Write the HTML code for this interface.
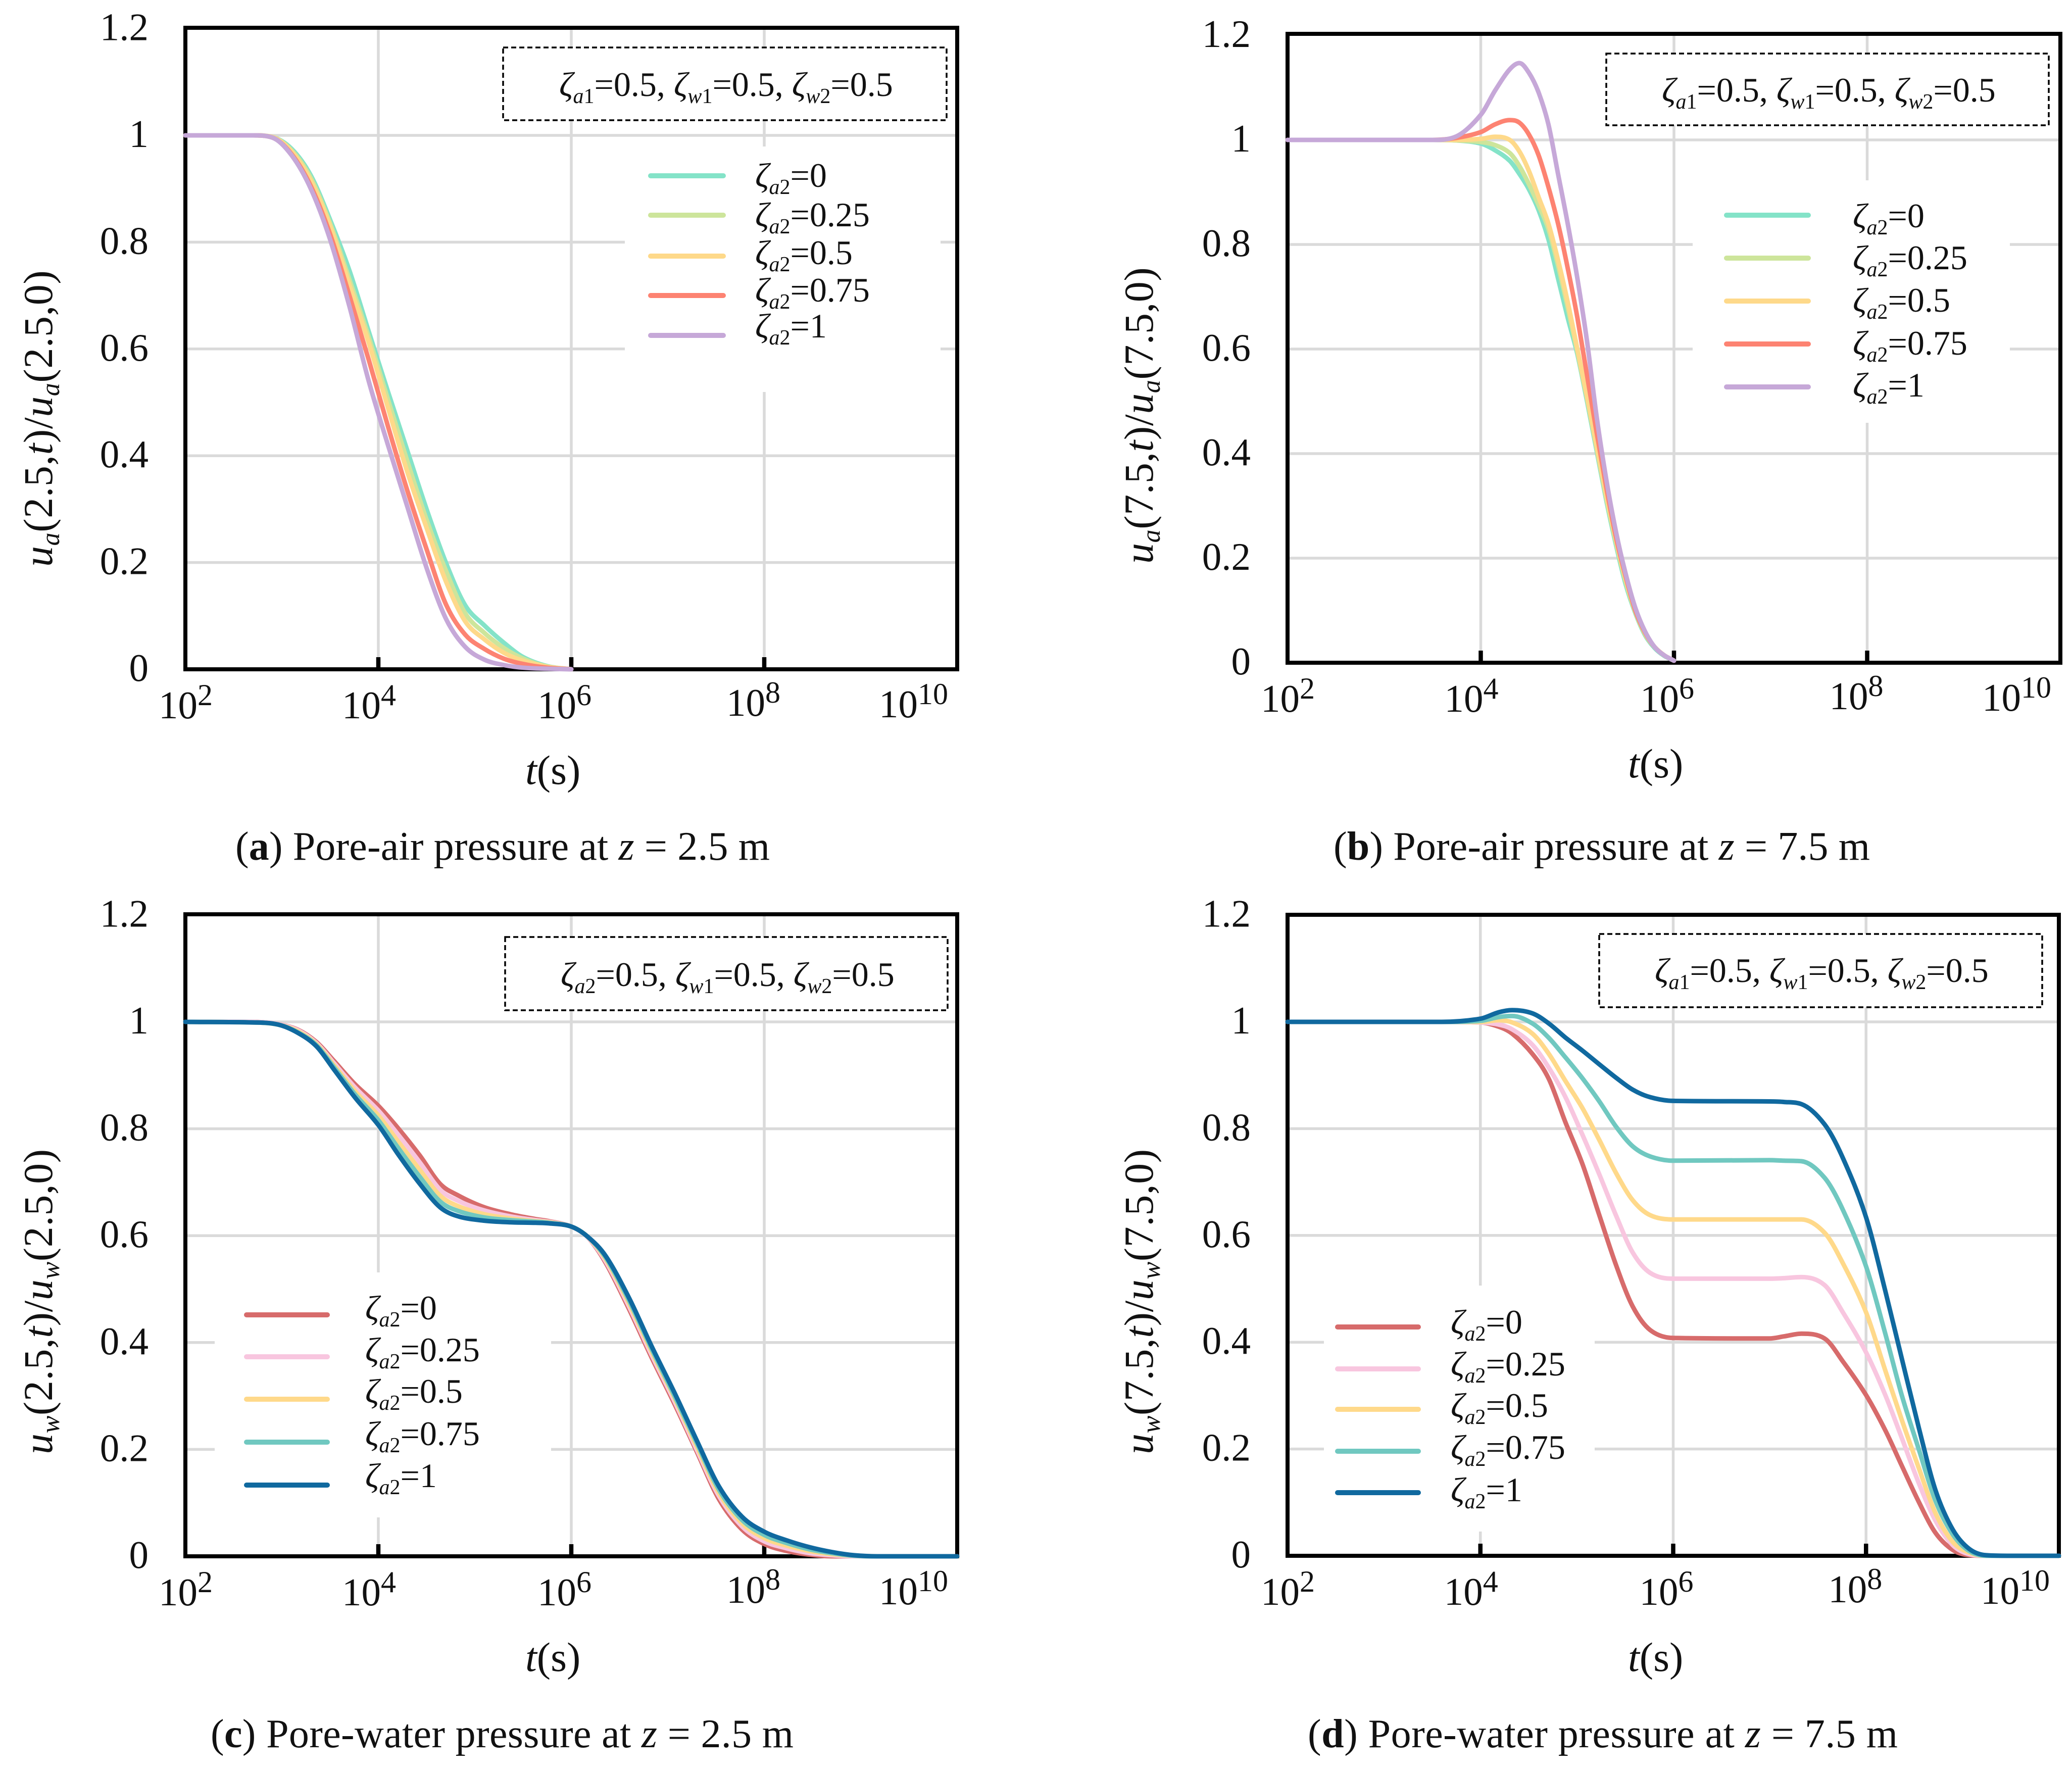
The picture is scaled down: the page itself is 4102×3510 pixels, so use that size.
<!DOCTYPE html>
<html lang="en">
<head>
<meta charset="utf-8">
<title>Pore pressure dissipation charts</title>
<style>
html,body{margin:0;padding:0;background:#fff;}
svg{display:block;font-family:"Liberation Serif",serif;fill:#111;}
.tick{font-size:77px;}
.ax{font-size:82px;}
.ytitle{font-size:82px;letter-spacing:0.6px;}
.leg{font-size:68px;}
.cap{font-size:80px;}
.i{font-style:italic;}
.b{font-weight:bold;}
.mask{fill:#fff;stroke:none;}
.dash{fill:#fff;stroke:#000;stroke-width:3.5;stroke-dasharray:10 6;}
.ll{stroke-width:10;stroke-linecap:round;fill:none;}
</style>
</head>
<body>
<svg id="figure" xmlns="http://www.w3.org/2000/svg" width="4102" height="3510" viewBox="0 0 4102 3510">
<rect width="4102" height="3510" fill="#fff"/>

<!-- Panel A -->
<g id="panel-a">
  <g id="grid-a"></g>
  <rect class="mask" x="1237" y="290" width="625" height="486"/>
  <rect class="dash" x="996" y="94" width="878" height="144"/>
  <text class="leg" x="1107" y="190"><tspan class="i">ζ</tspan><tspan class="i" font-size="42" dy="14">a</tspan><tspan font-size="42">1</tspan><tspan dy="-14">=0.5, </tspan><tspan class="i">ζ</tspan><tspan class="i" font-size="42" dy="14">w</tspan><tspan font-size="42">1</tspan><tspan dy="-14">=0.5, </tspan><tspan class="i">ζ</tspan><tspan class="i" font-size="42" dy="14">w</tspan><tspan font-size="42">2</tspan><tspan dy="-14">=0.5</tspan></text>
  <g id="axes-a"></g>
  <g id="lines-a"></g>
  <g>
    <line class="ll" x1="1288" x2="1432" y1="348" y2="348" stroke="#84e3c8"/>
    <line class="ll" x1="1288" x2="1432" y1="426" y2="426" stroke="#cde59b"/>
    <line class="ll" x1="1288" x2="1432" y1="507" y2="507" stroke="#fed98a"/>
    <line class="ll" x1="1288" x2="1432" y1="585" y2="585" stroke="#fd8372"/>
    <line class="ll" x1="1288" x2="1432" y1="664" y2="664" stroke="#c6a8d8"/>
    <text class="leg" x="1495" y="370"><tspan class="i">ζ</tspan><tspan class="i" font-size="42" dy="14">a</tspan><tspan font-size="42">2</tspan><tspan dy="-14">=0</tspan></text>
    <text class="leg" x="1495" y="448"><tspan class="i">ζ</tspan><tspan class="i" font-size="42" dy="14">a</tspan><tspan font-size="42">2</tspan><tspan dy="-14">=0.25</tspan></text>
    <text class="leg" x="1495" y="523"><tspan class="i">ζ</tspan><tspan class="i" font-size="42" dy="14">a</tspan><tspan font-size="42">2</tspan><tspan dy="-14">=0.5</tspan></text>
    <text class="leg" x="1495" y="597"><tspan class="i">ζ</tspan><tspan class="i" font-size="42" dy="14">a</tspan><tspan font-size="42">2</tspan><tspan dy="-14">=0.75</tspan></text>
    <text class="leg" x="1495" y="668"><tspan class="i">ζ</tspan><tspan class="i" font-size="42" dy="14">a</tspan><tspan font-size="42">2</tspan><tspan dy="-14">=1</tspan></text>
  </g>
  <text class="ytitle" transform="translate(103,1122) rotate(-90)"><tspan class="i">u</tspan><tspan class="i" font-size="52" dy="14">a</tspan><tspan dy="-14">(2.5,</tspan><tspan class="i">t</tspan><tspan>)/</tspan><tspan class="i">u</tspan><tspan class="i" font-size="52" dy="14">a</tspan><tspan dy="-14">(2.5,0)</tspan></text>
  <text class="ax" x="1040" y="1552"><tspan class="i">t</tspan>(s)</text>
  <text class="cap" x="466" y="1702" textLength="1058">(<tspan class="b">a</tspan>) Pore-air pressure at <tspan class="i">z</tspan> = 2.5 m</text>
</g>

<!-- Panel B -->
<g id="panel-b">
  <g id="grid-b"></g>
  <rect class="mask" x="3351" y="357" width="628" height="480"/>
  <rect class="dash" x="3180" y="106" width="876" height="142"/>
  <text class="leg" x="3290" y="201"><tspan class="i">ζ</tspan><tspan class="i" font-size="42" dy="14">a</tspan><tspan font-size="42">1</tspan><tspan dy="-14">=0.5, </tspan><tspan class="i">ζ</tspan><tspan class="i" font-size="42" dy="14">w</tspan><tspan font-size="42">1</tspan><tspan dy="-14">=0.5, </tspan><tspan class="i">ζ</tspan><tspan class="i" font-size="42" dy="14">w</tspan><tspan font-size="42">2</tspan><tspan dy="-14">=0.5</tspan></text>
  <g id="axes-b"></g>
  <g id="lines-b"></g>
  <g>
    <line class="ll" x1="3418" x2="3580" y1="426" y2="426" stroke="#84e3c8"/>
    <line class="ll" x1="3418" x2="3580" y1="511" y2="511" stroke="#cde59b"/>
    <line class="ll" x1="3418" x2="3580" y1="596" y2="596" stroke="#fed98a"/>
    <line class="ll" x1="3418" x2="3580" y1="681" y2="681" stroke="#fd8372"/>
    <line class="ll" x1="3418" x2="3580" y1="766" y2="766" stroke="#c6a8d8"/>
    <text class="leg" x="3668" y="450"><tspan class="i">ζ</tspan><tspan class="i" font-size="42" dy="14">a</tspan><tspan font-size="42">2</tspan><tspan dy="-14">=0</tspan></text>
    <text class="leg" x="3668" y="533"><tspan class="i">ζ</tspan><tspan class="i" font-size="42" dy="14">a</tspan><tspan font-size="42">2</tspan><tspan dy="-14">=0.25</tspan></text>
    <text class="leg" x="3668" y="617"><tspan class="i">ζ</tspan><tspan class="i" font-size="42" dy="14">a</tspan><tspan font-size="42">2</tspan><tspan dy="-14">=0.5</tspan></text>
    <text class="leg" x="3668" y="702"><tspan class="i">ζ</tspan><tspan class="i" font-size="42" dy="14">a</tspan><tspan font-size="42">2</tspan><tspan dy="-14">=0.75</tspan></text>
    <text class="leg" x="3668" y="785"><tspan class="i">ζ</tspan><tspan class="i" font-size="42" dy="14">a</tspan><tspan font-size="42">2</tspan><tspan dy="-14">=1</tspan></text>
  </g>
  <text class="ytitle" transform="translate(2282,1116) rotate(-90)"><tspan class="i">u</tspan><tspan class="i" font-size="52" dy="14">a</tspan><tspan dy="-14">(7.5,</tspan><tspan class="i">t</tspan><tspan>)/</tspan><tspan class="i">u</tspan><tspan class="i" font-size="52" dy="14">a</tspan><tspan dy="-14">(7.5,0)</tspan></text>
  <text class="ax" x="3223" y="1539"><tspan class="i">t</tspan>(s)</text>
  <text class="cap" x="2640" y="1702" textLength="1062">(<tspan class="b">b</tspan>) Pore-air pressure at <tspan class="i">z</tspan> = 7.5 m</text>
</g>

<!-- Panel C -->
<g id="panel-c">
  <g id="grid-c"></g>
  <rect class="mask" x="425" y="2519" width="666" height="485"/>
  <rect class="dash" x="1000" y="1855" width="876" height="145"/>
  <text class="leg" x="1110" y="1952"><tspan class="i">ζ</tspan><tspan class="i" font-size="42" dy="14">a</tspan><tspan font-size="42">2</tspan><tspan dy="-14">=0.5, </tspan><tspan class="i">ζ</tspan><tspan class="i" font-size="42" dy="14">w</tspan><tspan font-size="42">1</tspan><tspan dy="-14">=0.5, </tspan><tspan class="i">ζ</tspan><tspan class="i" font-size="42" dy="14">w</tspan><tspan font-size="42">2</tspan><tspan dy="-14">=0.5</tspan></text>
  <g id="axes-c"></g>
  <g id="lines-c"></g>
  <g>
    <line class="ll" x1="488" x2="648" y1="2603" y2="2603" stroke="#d76b6b"/>
    <line class="ll" x1="488" x2="648" y1="2686" y2="2686" stroke="#f8c6df"/>
    <line class="ll" x1="488" x2="648" y1="2770" y2="2770" stroke="#ffd98a"/>
    <line class="ll" x1="488" x2="648" y1="2855" y2="2855" stroke="#70c8c0"/>
    <line class="ll" x1="488" x2="648" y1="2940" y2="2940" stroke="#10699f"/>
    <text class="leg" x="723" y="2612"><tspan class="i">ζ</tspan><tspan class="i" font-size="42" dy="14">a</tspan><tspan font-size="42">2</tspan><tspan dy="-14">=0</tspan></text>
    <text class="leg" x="723" y="2695"><tspan class="i">ζ</tspan><tspan class="i" font-size="42" dy="14">a</tspan><tspan font-size="42">2</tspan><tspan dy="-14">=0.25</tspan></text>
    <text class="leg" x="723" y="2777"><tspan class="i">ζ</tspan><tspan class="i" font-size="42" dy="14">a</tspan><tspan font-size="42">2</tspan><tspan dy="-14">=0.5</tspan></text>
    <text class="leg" x="723" y="2861"><tspan class="i">ζ</tspan><tspan class="i" font-size="42" dy="14">a</tspan><tspan font-size="42">2</tspan><tspan dy="-14">=0.75</tspan></text>
    <text class="leg" x="723" y="2944"><tspan class="i">ζ</tspan><tspan class="i" font-size="42" dy="14">a</tspan><tspan font-size="42">2</tspan><tspan dy="-14">=1</tspan></text>
  </g>
  <text class="ytitle" transform="translate(103,2879) rotate(-90)"><tspan class="i">u</tspan><tspan class="i" font-size="52" dy="14">w</tspan><tspan dy="-14">(2.5,</tspan><tspan class="i">t</tspan><tspan>)/</tspan><tspan class="i">u</tspan><tspan class="i" font-size="52" dy="14">w</tspan><tspan dy="-14">(2.5,0)</tspan></text>
  <text class="ax" x="1040" y="3308"><tspan class="i">t</tspan>(s)</text>
  <text class="cap" x="417" y="3459" textLength="1154">(<tspan class="b">c</tspan>) Pore-water pressure at <tspan class="i">z</tspan> = 2.5 m</text>
</g>

<!-- Panel D -->
<g id="panel-d">
  <g id="grid-d"></g>
  <rect class="mask" x="2621" y="2545" width="536" height="487"/>
  <rect class="dash" x="3166" y="1849" width="877" height="145"/>
  <text class="leg" x="3276" y="1944"><tspan class="i">ζ</tspan><tspan class="i" font-size="42" dy="14">a</tspan><tspan font-size="42">1</tspan><tspan dy="-14">=0.5, </tspan><tspan class="i">ζ</tspan><tspan class="i" font-size="42" dy="14">w</tspan><tspan font-size="42">1</tspan><tspan dy="-14">=0.5, </tspan><tspan class="i">ζ</tspan><tspan class="i" font-size="42" dy="14">w</tspan><tspan font-size="42">2</tspan><tspan dy="-14">=0.5</tspan></text>
  <g id="axes-d"></g>
  <g id="lines-d"></g>
  <g>
    <line class="ll" x1="2648" x2="2808" y1="2627" y2="2627" stroke="#d76b6b"/>
    <line class="ll" x1="2648" x2="2808" y1="2710" y2="2710" stroke="#f8c6df"/>
    <line class="ll" x1="2648" x2="2808" y1="2790" y2="2790" stroke="#ffd98a"/>
    <line class="ll" x1="2648" x2="2808" y1="2873" y2="2873" stroke="#70c8c0"/>
    <line class="ll" x1="2648" x2="2808" y1="2955" y2="2955" stroke="#10699f"/>
    <text class="leg" x="2872" y="2640"><tspan class="i">ζ</tspan><tspan class="i" font-size="42" dy="14">a</tspan><tspan font-size="42">2</tspan><tspan dy="-14">=0</tspan></text>
    <text class="leg" x="2872" y="2723"><tspan class="i">ζ</tspan><tspan class="i" font-size="42" dy="14">a</tspan><tspan font-size="42">2</tspan><tspan dy="-14">=0.25</tspan></text>
    <text class="leg" x="2872" y="2805"><tspan class="i">ζ</tspan><tspan class="i" font-size="42" dy="14">a</tspan><tspan font-size="42">2</tspan><tspan dy="-14">=0.5</tspan></text>
    <text class="leg" x="2872" y="2888"><tspan class="i">ζ</tspan><tspan class="i" font-size="42" dy="14">a</tspan><tspan font-size="42">2</tspan><tspan dy="-14">=0.75</tspan></text>
    <text class="leg" x="2872" y="2972"><tspan class="i">ζ</tspan><tspan class="i" font-size="42" dy="14">a</tspan><tspan font-size="42">2</tspan><tspan dy="-14">=1</tspan></text>
  </g>
  <text class="ytitle" transform="translate(2282,2879) rotate(-90)"><tspan class="i">u</tspan><tspan class="i" font-size="52" dy="14">w</tspan><tspan dy="-14">(7.5,</tspan><tspan class="i">t</tspan><tspan>)/</tspan><tspan class="i">u</tspan><tspan class="i" font-size="52" dy="14">w</tspan><tspan dy="-14">(7.5,0)</tspan></text>
  <text class="ax" x="3223" y="3308"><tspan class="i">t</tspan>(s)</text>
  <text class="cap" x="2589" y="3459" textLength="1168">(<tspan class="b">d</tspan>) Pore-water pressure at <tspan class="i">z</tspan> = 7.5 m</text>
</g>
</svg>

<script>
// Tick values and labels
const yTickValues = [0, 0.2, 0.4, 0.6, 0.8, 1, 1.2];
const yTickLabels = ['0', '0.2', '0.4', '0.6', '0.8', '1', '1.2'];
const xTickExponents = [2, 4, 6, 8, 10];
const gridExponents = [4, 6, 8];

// Series names
const zetaNames = ['0', '0.25', '0.5', '0.75', '1'];

// Panel (a): log10(t) samples and values
const aLogT = [2, 2.7, 2.9, 3.1, 3.3, 3.5, 3.7, 3.9, 4.1, 4.3, 4.5, 4.7, 4.9, 5.1, 5.3, 5.5, 5.75, 6];
const aZeta0 = [1, 1, .997, .975, .925, .842, .747, .633, .52, .41, .30, .20, .12, .082, .05, .023, .006, 0];
const aZeta25 = [1, 1, .997, .972, .92, .835, .73, .622, .505, .39, .28, .185, .105, .068, .04, .02, .005, 0];
const aZeta50 = [1, 1, .997, .97, .915, .83, .72, .612, .49, .37, .265, .165, .09, .056, .031, .016, .005, 0];
const aZeta75 = [1, 1, .996, .965, .905, .815, .70, .58, .455, .335, .225, .122, .065, .038, .02, .01, .003, 0];
const aZeta100 = [1, 1, .996, .963, .90, .805, .68, .54, .42, .305, .19, .095, .042, .018, .008, .003, .001, 0];

// Panel (b)
const bLogT = [2, 3.5, 3.75, 4, 4.15, 4.3, 4.4, 4.5, 4.6, 4.7, 4.8, 4.9, 5, 5.1, 5.2, 5.3, 5.4, 5.5, 5.6, 5.7, 5.8, 5.9, 6];
const bZeta0 = [1, 1, .999, .993, .98, .96, .935, .905, .865, .81, .735, .66, .59, .50, .405, .31, .225, .15, .095, .053, .028, .013, .004];
const bZeta25 = [1, 1, .999, .996, .99, .975, .95, .915, .875, .83, .76, .68, .595, .505, .41, .315, .23, .155, .097, .055, .03, .014, .004];
const bZeta50 = [1, 1, 1.0, 1.002, 1.006, 1.0, .978, .94, .89, .84, .77, .69, .60, .51, .415, .32, .235, .16, .10, .057, .03, .014, .004];
const bZeta75 = [1, 1, 1.004, 1.015, 1.03, 1.038, 1.033, 1.01, .97, .91, .84, .755, .66, .55, .44, .335, .24, .165, .10, .058, .03, .014, .004];
const bZeta100 = [1, 1, 1.007, 1.048, 1.095, 1.135, 1.147, 1.128, 1.09, 1.03, .935, .84, .735, .615, .47, .35, .25, .17, .105, .06, .03, .014, .004];

// Panel (c)
const cLogT = [2, 2.7, 2.96, 3.17, 3.36, 3.54, 3.76, 4, 4.21, 4.43, 4.64, 4.83, 5.1, 5.37, 5.63, 5.77, 6, 6.17, 6.36, 6.6, 6.83, 7.07, 7.3, 7.53, 7.77, 8, 8.23, 8.47, 8.7, 8.93, 9.17, 10];
const cZeta0 = [1, 1, .996, .985, .962, .927, .883, .843, .80, .75, .697, .675, .653, .64, .631, .627, .617, .597, .548, .462, .373, .285, .196, .107, .05, .023, .01, .003, 0, 0, 0, 0];
const cZeta25 = [1, 1, .996, .984, .96, .923, .877, .834, .788, .737, .686, .665, .647, .636, .629, .626, .617, .597, .551, .467, .378, .29, .2, .113, .056, .028, .015, .006, .002, 0, 0, 0];
const cZeta50 = [1, .999, .995, .982, .958, .919, .87, .825, .775, .723, .675, .655, .64, .632, .627, .625, .617, .598, .555, .473, .384, .296, .206, .119, .062, .034, .02, .01, .004, .001, 0, 0];
const cZeta75 = [1, .999, .995, .98, .956, .915, .864, .816, .763, .71, .664, .646, .634, .629, .626, .624, .617, .598, .558, .478, .389, .3, .212, .125, .068, .04, .025, .013, .006, .001, 0, 0];
const cZeta100 = [1, .999, .995, .979, .954, .911, .858, .807, .751, .697, .653, .636, .628, .625, .624, .623, .617, .598, .561, .483, .394, .306, .217, .131, .074, .046, .03, .017, .008, .002, 0, 0];

// Panel (d)
const dLogT = [2, 3.6, 4, 4.19, 4.33, 4.54, 4.71, 4.88, 5.06, 5.23, 5.41, 5.58, 5.76, 6, 7, 7.15, 7.33, 7.57, 7.76, 8, 8.2, 8.37, 8.55, 8.72, 8.9, 9.07, 9.25, 9.5, 10];
const dZeta0 = [1, 1, .999, .991, .978, .94, .893, .813, .733, .64, .543, .467, .423, .408, .407, .411, .416, .407, .364, .301, .235, .169, .10, .043, .011, .001, 0, 0, 0];
const dZeta25 = [1, 1, .999, .995, .986, .957, .914, .86, .788, .716, .636, .568, .53, .519, .519, .52, .522, .507, .456, .381, .301, .221, .135, .066, .02, .003, 0, 0, 0];
const dZeta50 = [1, 1, 1.0, 1.003, .999, .978, .94, .89, .838, .78, .716, .666, .638, .63, .63, .63, .63, .605, .548, .456, .347, .255, .163, .08, .026, .006, 0, 0, 0];
const dZeta75 = [1, 1, 1.002, 1.009, 1.011, .997, .97, .934, .894, .852, .803, .767, .748, .74, .741, .74, .739, .708, .648, .542, .416, .301, .198, .103, .04, .009, 0, 0, 0];
const dZeta100 = [1, 1, 1.006, 1.018, 1.022, 1.016, .997, .971, .946, .921, .895, .873, .859, .852, .851, .85, .846, .808, .745, .634, .496, .37, .238, .123, .049, .013, .001, 0, 0];

// Colours
const airColors = ['#84e3c8', '#cde59b', '#fed98a', '#fd8372', '#c6a8d8'];
const waterColors = ['#d76b6b', '#f8c6df', '#ffd98a', '#70c8c0', '#10699f'];

const NS = 'http://www.w3.org/2000/svg';

function svgEl(tag, attrs) {
  const el = document.createElementNS(NS, tag);
  for (const k in attrs) el.setAttribute(k, attrs[k]);
  return el;
}

// Smooth cubic path through screen points: centred tangents with a monotonic limiter
function smoothPath(xs, ys) {
  const n = xs.length;
  const d = [], m = new Array(n);
  for (let i = 0; i < n - 1; i++) d.push((ys[i + 1] - ys[i]) / (xs[i + 1] - xs[i]));
  m[0] = d[0];
  m[n - 1] = d[n - 2];
  for (let i = 1; i < n - 1; i++) {
    if (d[i - 1] * d[i] <= 0) { m[i] = 0; continue; }
    const c = (ys[i + 1] - ys[i - 1]) / (xs[i + 1] - xs[i - 1]);
    const lim = 3 * Math.min(Math.abs(d[i - 1]), Math.abs(d[i]));
    m[i] = Math.sign(c) * Math.min(Math.abs(c), lim);
  }
  let p = 'M' + xs[0].toFixed(1) + ' ' + ys[0].toFixed(1);
  for (let i = 0; i < n - 1; i++) {
    const h = (xs[i + 1] - xs[i]) / 3;
    p += 'C' + (xs[i] + h).toFixed(1) + ' ' + (ys[i] + m[i] * h).toFixed(1) + ' ' +
      (xs[i + 1] - h).toFixed(1) + ' ' + (ys[i + 1] - m[i + 1] * h).toFixed(1) + ' ' +
      xs[i + 1].toFixed(1) + ' ' + ys[i + 1].toFixed(1);
  }
  return p;
}

function drawPanel(id, box, logT, series, colors) {
  const xOf = p => box.left + (box.right - box.left) * (p - 2) / 8;
  const yOf = v => box.bottom - (box.bottom - box.y1) * v;
  const grid = document.getElementById('grid-' + id);
  const axes = document.getElementById('axes-' + id);
  const lines = document.getElementById('lines-' + id);

  yTickValues.forEach((v, i) => {
    if (v > 0 && v < 1.2) {
      const g = svgEl('line', {x1: box.left, x2: box.right, y1: yOf(v), y2: yOf(v), stroke: '#dadada', 'stroke-width': 5.5});
      
      
      grid.appendChild(g);
    }
    const t = svgEl('text', {class: 'tick', x: box.left - 73, y: yOf(v) + 23, 'text-anchor': 'end'});
    t.textContent = yTickLabels[i];
    
    
    axes.appendChild(t);
  });

  gridExponents.forEach(p => {
    const g = svgEl('line', {x1: xOf(p), x2: xOf(p), y1: box.top, y2: box.bottom, stroke: '#dadada', 'stroke-width': 5.5});
    
    
    grid.appendChild(g);
    const m = svgEl('line', {x1: xOf(p), x2: xOf(p), y1: box.bottom - 24, y2: box.bottom, stroke: '#000', 'stroke-width': 8.5});
    
    
    axes.appendChild(m);
  });

  const nudgeX = {2: -53, 4: -72, 6: -67, 8: -75, 10: -155};
  const nudgeY = {2: 97, 4: 97, 6: 97, 8: 92, 10: 95};
  xTickExponents.forEach(p => {
    const t = svgEl('text', {class: 'tick', x: xOf(p) + nudgeX[p], y: box.bottom + nudgeY[p]});
    const base = svgEl('tspan', {});
    base.textContent = '10';
    const exp = svgEl('tspan', {'font-size': 60, dy: -26});
    exp.textContent = String(p);
    t.appendChild(base);
    t.appendChild(exp);
    
    
    axes.appendChild(t);
  });

  const frame = svgEl('rect', {x: box.left, y: box.top, width: box.right - box.left, height: box.bottom - box.top, fill: 'none', stroke: '#000', 'stroke-width': 8});
  
  
  axes.appendChild(frame);

  const xs = logT.map(xOf);
  series.forEach((vals, i) => {
    const path = svgEl('path', {d: smoothPath(xs, vals.map(yOf)), fill: 'none', stroke: colors[i], 'stroke-width': 9, 'stroke-linejoin': 'round', 'stroke-linecap': 'round'});
    
    
    lines.appendChild(path);
  });
}

drawPanel('a', {left: 367, right: 1895, top: 55, bottom: 1325, y1: 268}, aLogT, [aZeta0, aZeta25, aZeta50, aZeta75, aZeta100], airColors);
drawPanel('b', {left: 2549, right: 4079, top: 67, bottom: 1312, y1: 277}, bLogT, [bZeta0, bZeta25, bZeta50, bZeta75, bZeta100], airColors);
drawPanel('c', {left: 367, right: 1895, top: 1810, bottom: 3081, y1: 2023}, cLogT, [cZeta0, cZeta25, cZeta50, cZeta75, cZeta100], waterColors);
drawPanel('d', {left: 2549, right: 4076, top: 1811, bottom: 3080, y1: 2023}, dLogT, [dZeta0, dZeta25, dZeta50, dZeta75, dZeta100], waterColors);
</script>
</body>
</html>
